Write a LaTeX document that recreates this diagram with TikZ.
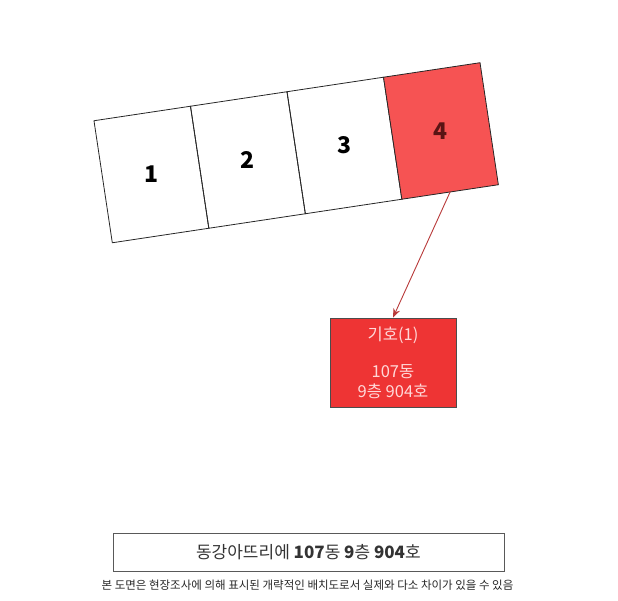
\documentclass[tikz,border=0pt]{standalone}
\usepackage{fontspec}
\setmainfont{Noto Sans CJK KR}
\usetikzlibrary{positioning}
\usetikzlibrary{arrows.meta}

\definecolor{cellRed}{HTML}{F65353}
\definecolor{markRed}{HTML}{EE3434}
\definecolor{arrowRed}{HTML}{B83A3A}
\definecolor{markText}{HTML}{FFD8D8}
\definecolor{digitRed}{HTML}{5A1414}

\begin{document}
\begin{tikzpicture}[x=1pt,y=1pt,%%
  cellStyle/.style={draw=black!85,line width=0.8pt,rotate=\tilt,
    minimum width=\cw pt,minimum height=\ch pt,inner sep=0pt,outer sep=0pt},%%
  numStyle/.style={font=\fontsize{23}{23}\selectfont\bfseries},%%
  markStyle/.style={draw=black!70,fill=markRed,line width=0.8pt,
    minimum width=126pt,minimum height=89pt,align=center,text=markText,
    font=\fontsize{16.5}{20}\selectfont},%%
  titleStyle/.style={draw=black!65,line width=0.8pt,minimum width=391pt,
    minimum height=38pt,text=black!80,font=\fontsize{17}{17}\selectfont},%%
  arrowStyle/.style={-{Stealth[length=9pt,width=7pt]},draw=arrowRed,line width=0.9pt}%%
]
%%
%%
\pgfmathsetmacro{\tilt}{8.55}
\pgfmathsetmacro{\cw}{97.6}
\pgfmathsetmacro{\ch}{123.4}
%%
\useasboundingbox (0,0) rectangle (618,600);
%%
%% The row of four units, tilted.
\node[cellStyle] (cell1) at (151.4,425.5) {};
\node[cellStyle,right=0pt of cell1] (cell2) {};
\node[cellStyle,right=0pt of cell2] (cell3) {};
\node[cellStyle,right=0pt of cell3,fill=cellRed] (cell4) {};
%%
%% Unit numbers, kept upright.
\node[numStyle] (num1) at (cell1) {1};
\node[numStyle] (num2) at (cell2) {2};
\node[numStyle] (num3) at (cell3) {3};
\node[numStyle,text=digitRed] (num4) at (cell4) {4};
%%
%% The marked unit.
\node[markStyle] (mark) at (393,237.5)
  {기호(1)\\[17pt]107동\\9층 904호};
\draw[arrowStyle] (cell4.south) -- (mark.north);
%%
%% Title and note.
\node[titleStyle] (title) at (308.4,47.5)
  {동강아뜨리에 \textbf{107}동 \textbf{9}층 \textbf{904}호};
\node[font=\fontsize{11.5}{11.5}\selectfont,text=black!85] (note) at (307.5,15)
  {본 도면은 현장조사에 의해 표시된 개략적인 배치도로서 실제와 다소 차이가 있을 수 있음};
\end{tikzpicture}
\end{document}
